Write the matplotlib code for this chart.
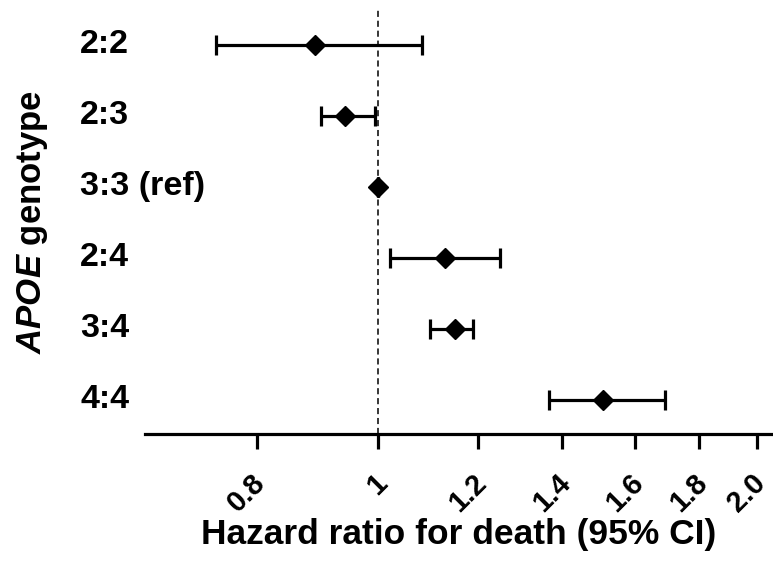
import matplotlib
matplotlib.use("Agg")
import matplotlib.pyplot as plt
import matplotlib.transforms as mtransforms
import numpy as np

plt.rcParams['font.family'] = ['Liberation Sans', 'DejaVu Sans']
plt.rcParams['mathtext.fontset'] = 'custom'
plt.rcParams['mathtext.it'] = 'Liberation Sans:italic:bold'
plt.rcParams['mathtext.rm'] = 'Liberation Sans:bold'

genotypes = ["2:2", "2:3", "3:3 (ref)", "2:4", "3:4", "4:4"]
hr = [0.89, 0.94, 1.00, 1.13, 1.15, 1.51]
ci_low = [0.743, 0.900, 1.00, 1.022, 1.099, 1.366]
ci_high = [1.082, 0.993, 1.00, 1.249, 1.188, 1.69]
xticks = [0.8, 1.0, 1.2, 1.4, 1.6, 1.8, 2.0]
xticklabels = ["0.8", "1", "1.2", "1.4", "1.6", "1.8", "2.0"]

fig = plt.figure(figsize=(7.73, 5.61), dpi=100)
ax = fig.add_axes([0.1876, 0.2264, 0.8124, 0.7593])

n = len(genotypes)
y = np.arange(n, 0, -1)
hr_a = np.array(hr)
err = np.vstack([hr_a - np.array(ci_low), np.array(ci_high) - hr_a])

ax.axvline(1.0, color='black', lw=1.1, ls=(0, (4, 2.5)), zorder=1)
ax.errorbar(hr_a, y, xerr=err, fmt='D', color='black', ms=10, lw=2.3,
            capsize=7, capthick=2.3, zorder=3)

ax.set_xscale('log')
ax.set_xlim(0.652, 2.06)
ax.set_ylim(0.52, 6.52)
ax.set_xticks(xticks)
ax.set_xticklabels(xticklabels, rotation=45, ha='right', rotation_mode='anchor',
                   fontsize=21, fontweight='bold')
ax.xaxis.set_minor_locator(matplotlib.ticker.NullLocator())
ax.tick_params(axis='x', length=11, width=2.3, pad=14)
ax.set_yticks([])
offset = mtransforms.ScaledTranslation(-6 / 100, 0, fig.dpi_scale_trans)
for lab in ax.get_xticklabels():
    lab.set_transform(lab.get_transform() + offset)

for s in ['top', 'right', 'left']:
    ax.spines[s].set_visible(False)
ax.spines['bottom'].set_linewidth(2.3)

tr = mtransforms.blended_transform_factory(ax.transAxes, ax.transData)
for gi, yi in zip(genotypes, y):
    ax.text(-0.103, yi, gi, fontsize=24.5, fontweight='bold',
            ha='left', va='center', transform=tr)

ax.set_xlabel("Hazard ratio for death (95% CI)", fontsize=25.5, fontweight='bold',
              va='center')
ax.xaxis.set_label_coords(0.5, -0.237)
fig.text(0.042, 0.604, r"$\mathit{APOE}$ genotype", rotation=90, fontsize=25,
         fontweight='bold', ha='center', va='center')

fig.savefig("out.png", dpi=100)
